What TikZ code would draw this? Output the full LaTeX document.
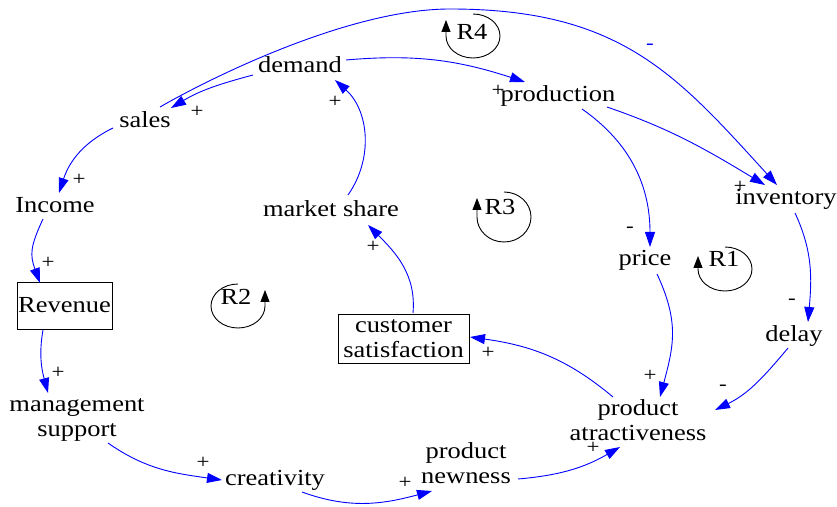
\documentclass[tikz,border=0pt]{standalone}
\usepackage{fontspec}
\setmainfont{Liberation Serif}
\usepackage{graphicx}
\usetikzlibrary{arrows.meta,calc}
\newcommand{\sx}[1]{\scalebox{1.15}[1]{#1}}
\begin{document}
\begin{tikzpicture}[x=1pt,y=1pt,
  lbl/.style={font=\fontsize{23}{25}\selectfont, inner sep=0pt},
  lbltwo/.style={lbl, align=center},
  sgn/.style={font=\fontsize{20}{22}\selectfont, inner sep=0pt},
  looplbl/.style={font=\fontsize{23}{25}\selectfont, inner sep=0pt, anchor=base},
  lnk/.style={draw=blue, line width=0.9pt, -{Triangle[length=15pt,width=10pt]}},
  loopar/.style={draw=black, line width=0.9pt, -{Triangle[length=12pt,width=9pt]}},
  boxed/.style={draw, line width=0.8pt}
]
\useasboundingbox (0,0) rectangle (837,506);

% variables
\node[lbl, anchor=base] (demand) at (300,433) {\sx{demand}};
\node[lbl, anchor=base] (sales) at (145,378) {\sx{sales}};
\node[lbl, anchor=base] (Income) at (55,293) {\sx{Income}};
\node[lbl, anchor=base] (mshare) at (331,289) {\sx{market share}};
\node[lbl, anchor=base] (production) at (558,404) {\sx{production}};
\node[lbl, anchor=base] (inventory) at (786,301) {\sx{inventory}};
\node[lbl, anchor=base] (price) at (645,240) {\sx{price}};
\node[lbl, anchor=base] (delay) at (794,164) {\sx{delay}};
\node[lbltwo] (prodattr) at (638,86) {\sx{product}\\\sx{atractiveness}};
\node[lbltwo] (newness) at (466,43) {\sx{product}\\\sx{newness}};
\node[lbltwo] (mgmt) at (77,86) {\sx{management}\\\sx{support}};
\node[lbl, anchor=base] (creativity) at (275,21) {\sx{creativity}};
\node[lbl, boxed, minimum width=95pt, minimum height=47pt] (revenue) at (64.5,200.5) {\sx{Revenue}};
\node[lbltwo, boxed, minimum width=131pt, minimum height=49pt] (custsat) at (403.5,167.5) {\sx{customer}\\\sx{satisfaction}};

% connectors
\draw[lnk] ($(demand.base)+(-47,-2)$) to[out=195,in=31] ($(sales.base)+(26,20)$);
\draw[lnk] ($(sales.base)+(15,21)$) .. controls +(52,30) and +(-100,0) .. (450,497)
  .. controls +(170,0) and +(-101,111) .. ($(inventory.base)+(-9,20)$);
\draw[lnk] ($(demand.base)+(46,13)$) to[out=5,in=162] ($(production.base)+(-33,20)$);
\draw[lnk] ($(production.base)+(49,-5)$) to[out=-19,in=149] ($(inventory.base)+(-21,20)$);
\draw[lnk] ($(production.base)+(24,-7)$) to[out=-35,in=90] ($(price.base)+(5,19)$);
\draw[lnk] ($(inventory.base)+(9,-8)$) to[out=-65,in=85] ($(delay.base)+(14,20)$);
\draw[lnk] ($(delay.base)+(-6,-6)$) to[out=230,in=26] ($(prodattr.center)+(77,10)$);
\draw[lnk] ($(price.base)+(12,-8)$) to[out=-65,in=75,looseness=1.1] ($(prodattr.center)+(22,23)$);
\draw[lnk] ($(prodattr.center)+(-25,23)$) to[out=140,in=-8] ($(custsat.center)+(66.5,1.5)$);
\draw[lnk] ($(custsat.center)+(9.5,25.5)$) to[out=85,in=-45] ($(mshare.base)+(37,-8)$);
\draw[lnk] ($(mshare.base)+(17,22)$) to[out=55,in=-42] ($(demand.base)+(35,-7)$);
\draw[lnk] ($(sales.base)+(-32,0)$) to[out=206,in=72] ($(Income.base)+(4,20)$);
\draw[lnk] ($(Income.base)+(-12,-6)$) to[out=245,in=110,looseness=1.2] ($(revenue.center)+(-24.5,22.5)$);
\draw[lnk] ($(revenue.center)+(-21.5,-24.5)$) to[out=260,in=105] ($(mgmt.center)+(-29,27)$);
\draw[lnk] ($(mgmt.center)+(31,-23)$) to[out=-35,in=172] ($(creativity.base)+(-53,5)$);
\draw[lnk] ($(creativity.base)+(27,-7)$) to[out=-20,in=195] ($(newness.center)+(-34,-28)$);
\draw[lnk] ($(newness.center)+(52,-16)$) to[out=5,in=210] ($(prodattr.center)+(-18,-27)$);

% polarity signs
\node[sgn] (s1) at (197,394) {\sx{+}};
\node[sgn, text=blue] (s2) at (650,459) {\sx{-}};
\node[sgn] (s3) at (498,415) {\sx{+}};
\node[sgn] (s4) at (740,319) {\sx{+}};
\node[sgn] (s5) at (630,276) {\sx{-}};
\node[sgn] (s6) at (792,204) {\sx{-}};
\node[sgn] (s7) at (723,118) {\sx{-}};
\node[sgn] (s8) at (650,130) {\sx{+}};
\node[sgn] (s9) at (488,153) {\sx{+}};
\node[sgn] (s10) at (373,259) {\sx{+}};
\node[sgn] (s11) at (335,404) {\sx{+}};
\node[sgn] (s12) at (79,326) {\sx{+}};
\node[sgn] (s13) at (48,243) {\sx{+}};
\node[sgn] (s14) at (58,133) {\sx{+}};
\node[sgn] (s15) at (203,43) {\sx{+}};
\node[sgn] (s16) at (405,23) {\sx{+}};
\node[sgn] (s17) at (593,58) {\sx{+}};

% loop markers
\node[looplbl] (r4) at (472,466) {\sx{R4}};
\draw[loopar] ($(r4.base)+(1,26)$) arc[start angle=90, end angle=-180, x radius=27, y radius=22] -- ++(0,16);
\node[looplbl] (r3) at (500,291) {\sx{R3}};
\draw[loopar] ($(r3.base)+(4,23)$) arc[start angle=90, end angle=-180, x radius=27, y radius=25] -- ++(0,19);
\node[looplbl] (r1) at (724,239) {\sx{R1}};
\draw[loopar] ($(r1.base)+(1,20)$) arc[start angle=90, end angle=-180, x radius=27, y radius=22] -- ++(0,13);
\node[looplbl] (r2) at (236,201) {\sx{R2}};
\draw[loopar] ($(r2.base)+(2,21)$) arc[start angle=90, end angle=360, x radius=27, y radius=22] -- ++(0,16);
\end{tikzpicture}
\end{document}
